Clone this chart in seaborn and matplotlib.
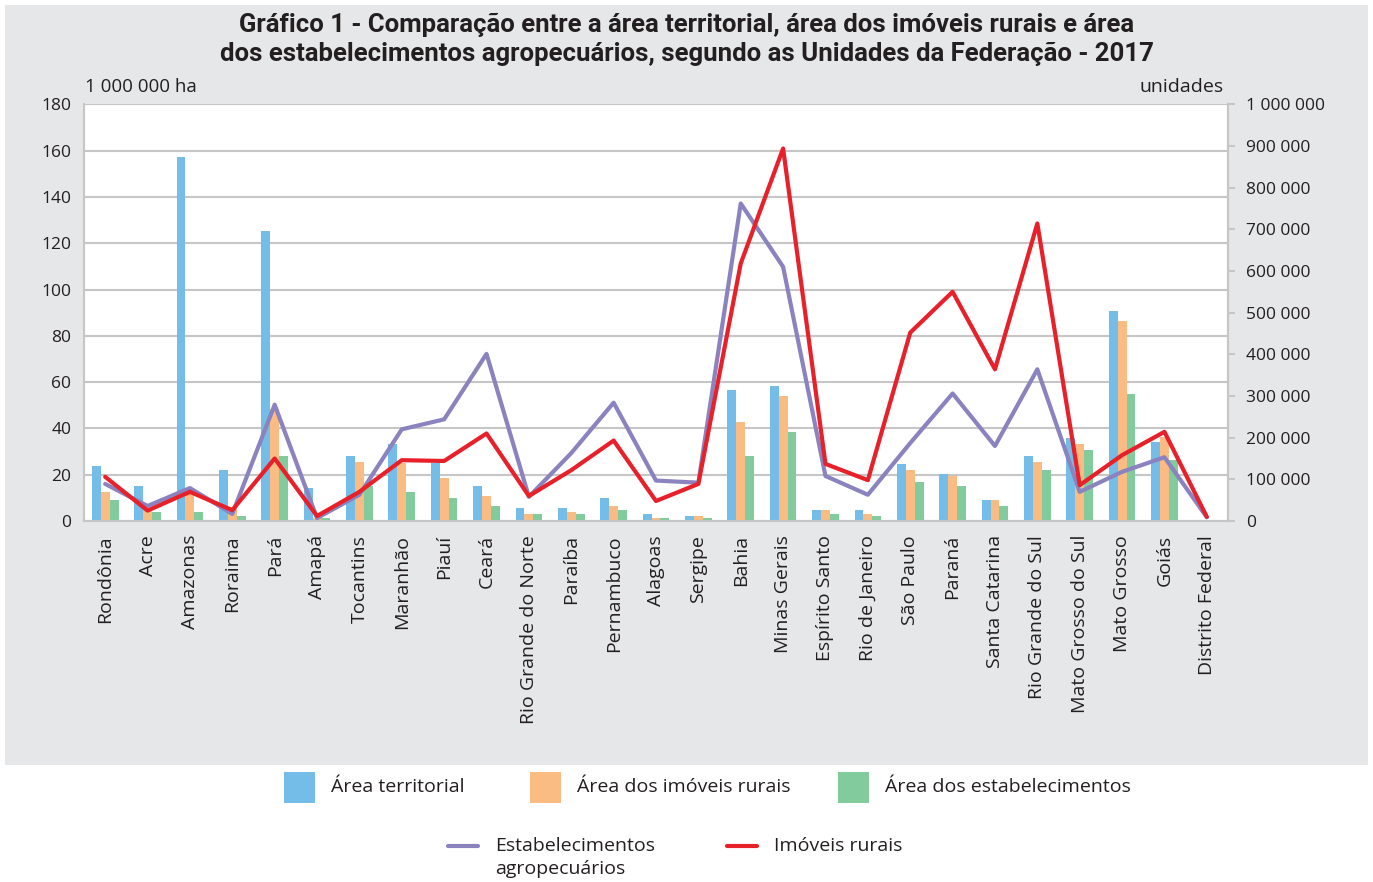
import numpy as np
import pandas as pd
import matplotlib
matplotlib.use("Agg")
import matplotlib.pyplot as plt
import seaborn as sns
from matplotlib.patches import Rectangle
from matplotlib.lines import Line2D
from matplotlib.ticker import FuncFormatter

# ----------------------------------
# Data
# ----------------------------------
ufs = ["Rondônia", "Acre", "Amazonas", "Roraima", "Pará", "Amapá", "Tocantins",
       "Maranhão", "Piauí", "Ceará", "Rio Grande do Norte", "Paraíba",
       "Pernambuco", "Alagoas", "Sergipe", "Bahia", "Minas Gerais",
       "Espírito Santo", "Rio de Janeiro", "São Paulo", "Paraná",
       "Santa Catarina", "Rio Grande do Sul", "Mato Grosso do Sul",
       "Mato Grosso", "Goiás", "Distrito Federal"]

# 1 000 000 ha
area_territorial = [23.8, 15.1, 157.4, 22.0, 125.4, 14.3, 28.1, 33.3, 25.2, 15.1,
                    5.6, 5.6, 9.9, 3.0, 2.2, 56.6, 58.3, 4.8, 4.8, 24.6, 20.3,
                    9.1, 28.1, 35.9, 90.7, 34.1, 0.6]
area_imoveis = [12.5, 5.0, 12.0, 6.0, 48.5, 1.5, 25.5, 25.0, 18.6, 10.8,
                3.0, 3.9, 6.5, 1.3, 2.2, 42.8, 54.0, 4.8, 3.0, 22.0, 19.4,
                9.1, 25.5, 33.3, 86.4, 36.2, 0.6]
area_estab = [9.1, 3.9, 3.9, 2.2, 28.1, 1.3, 15.1, 12.5, 9.9, 6.5,
              3.0, 3.0, 4.8, 1.3, 1.3, 28.1, 38.4, 3.0, 2.2, 16.8, 15.1,
              6.5, 22.0, 30.7, 54.9, 26.4, 0.6]

# unidades
estabelecimentos = [89000, 36000, 79000, 17000, 279000, 7000, 63000, 220000,
                    244000, 401000, 58000, 163000, 284000, 97000, 92000,
                    762000, 610000, 108000, 63000, 187000, 306000, 180000,
                    364000, 70000, 118000, 153000, 9000]
imoveis = [106000, 25000, 70000, 26000, 150000, 12000, 70000, 146000, 144000,
           210000, 60000, 122000, 193000, 48000, 89000, 618000, 894000,
           137000, 98000, 452000, 550000, 364000, 714000, 86000, 158000,
           214000, 10000]

series_names = ["Área territorial", "Área dos imóveis rurais", "Área dos estabelecimentos"]
bar_colors = ["#74bde9", "#fbbc84", "#82cb9c"]
purple = "#8a83c0"
red = "#e8202a"
text_color = "#231f20"
grid_color = "#c6c6c6"

df = pd.DataFrame({
    "uf": ufs * 3,
    "valor": area_territorial + area_imoveis + area_estab,
    "serie": np.repeat(series_names, len(ufs)),
})

# ----------------------------------
# Figure
# ----------------------------------
sns.set_style("white")
plt.rcParams["font.family"] = ["Open Sans", "DejaVu Sans"]
plt.rcParams["text.color"] = text_color

fig = plt.figure(figsize=(13.73, 8.82), dpi=100)
fig.patch.set_facecolor("white")
W, H = 1373, 882
fig.add_artist(Rectangle((5 / W, 1 - 765 / H), 1363 / W, 760 / H,
                         transform=fig.transFigure, facecolor="#e6e7e8",
                         edgecolor="none", zorder=-10))

ax = fig.add_axes([84 / W, 1 - 521 / H, 1144 / W, 416.7 / H])
ax.set_facecolor("white")

sns.barplot(data=df, x="uf", y="valor", hue="serie", palette=bar_colors,
            width=0.63, saturation=1, linewidth=0, legend=False, ax=ax)
ax.set_xlim(-0.5, len(ufs) - 0.5)
ax.set_ylim(0, 180)
ax.set_yticks(range(0, 181, 20))
ax.yaxis.grid(True, color=grid_color, linewidth=1.5)
ax.set_axisbelow(True)
ax.set_xlabel("")
ax.set_ylabel("")
ax.tick_params(axis="y", length=0, pad=9, labelsize=12.5, labelcolor=text_color)
ax.tick_params(axis="x", length=0, pad=10, labelsize=14, labelcolor=text_color)
for lab in ax.get_xticklabels():
    lab.set_rotation(90)
for side in ["left", "bottom", "right"]:
    ax.spines[side].set_color(grid_color)
    ax.spines[side].set_linewidth(1.5)
ax.spines["top"].set_visible(False)

ax2 = ax.twinx()
x_idx = np.arange(len(ufs))
sns.lineplot(x=x_idx, y=estabelecimentos, color=purple, linewidth=3, sort=False, ax=ax2)
sns.lineplot(x=x_idx, y=imoveis, color=red, linewidth=3, sort=False, ax=ax2)
ax2.set_ylim(0, 1000000)
ax2.set_yticks(range(0, 1000001, 100000))
ax2.yaxis.set_major_formatter(FuncFormatter(lambda v, p: f"{int(v):,}".replace(",", " ")))
ax2.tick_params(axis="y", length=5, width=1.5, color=grid_color, pad=8,
                labelsize=12.5, labelcolor=text_color)
for side in ["left", "top", "bottom"]:
    ax2.spines[side].set_visible(False)
ax2.spines["right"].set_color(grid_color)
ax2.spines["right"].set_linewidth(1.5)
ax2.set_xlim(-0.5, len(ufs) - 0.5)

# ----------------------------------
# Titles
# ----------------------------------
title_font = ["Roboto", "DejaVu Sans"]
fig.text(0.5, 1 - 25 / H, "Gráfico 1 - Comparação entre a área territorial, área dos imóveis rurais e área",
         ha="center", va="center", fontsize=18.5, fontweight="bold", family=title_font)
fig.text(0.5, 1 - 54 / H, "dos estabelecimentos agropecuários, segundo as Unidades da Federação - 2017",
         ha="center", va="center", fontsize=18.5, fontweight="bold", family=title_font)
fig.text(85 / W, 1 - 87 / H, "1 000 000 ha", ha="left", va="center", fontsize=13.5)
fig.text(1224 / W, 1 - 87 / H, "unidades", ha="right", va="center", fontsize=14)

# ----------------------------------
# Legend
# ----------------------------------
for x0, name, col in zip([284, 530, 838], series_names, bar_colors):
    fig.add_artist(Rectangle((x0 / W, 1 - 803 / H), 31 / W, 31 / H,
                             transform=fig.transFigure, facecolor=col, edgecolor="none"))
    fig.text((x0 + 47) / W, 1 - 787 / H, name, ha="left", va="center", fontsize=14)

line_items = [(448, ["Estabelecimentos", "agropecuários"], purple),
              (727, ["Imóveis rurais"], red)]
for x0, lines, col in line_items:
    fig.add_artist(Line2D([x0 / W, (x0 + 30) / W], [1 - 846 / H, 1 - 846 / H],
                          transform=fig.transFigure, color=col, linewidth=3))
    for i, txt in enumerate(lines):
        fig.text((x0 + 47) / W, 1 - (846 + 23 * i) / H, txt, ha="left",
                 va="center", fontsize=14)

fig.savefig("out.png", dpi=100)
